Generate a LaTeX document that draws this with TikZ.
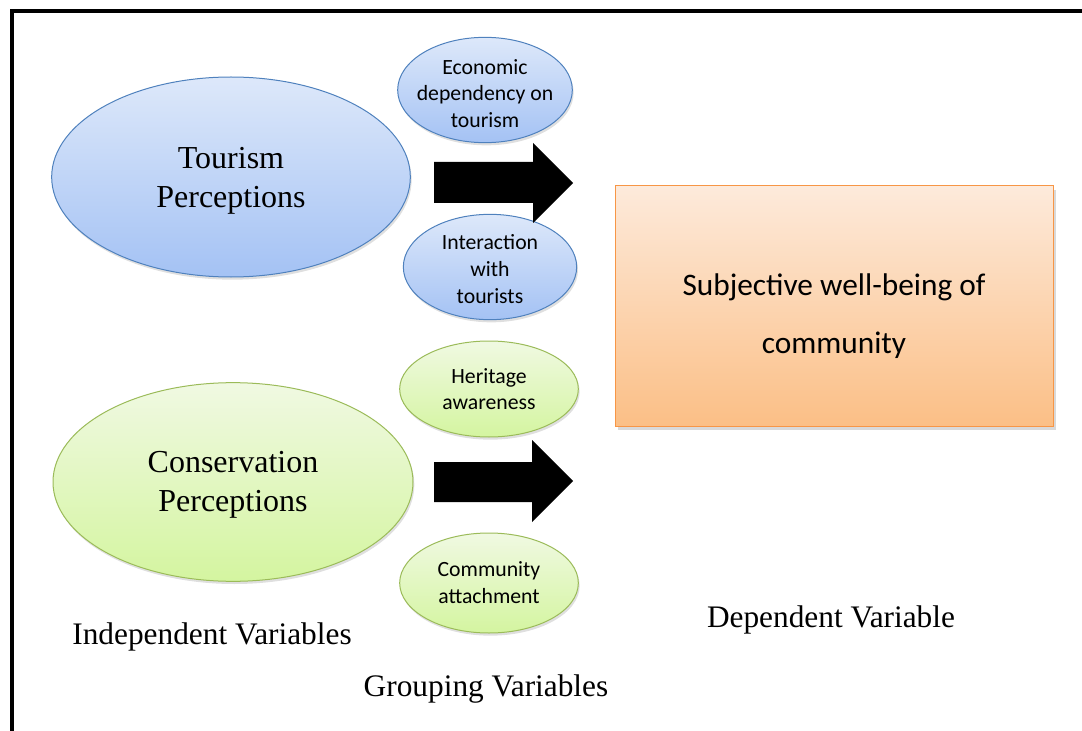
\documentclass[tikz,border=0pt]{standalone}
\usepackage{fontspec}
\setmainfont{Liberation Serif}
\newfontfamily\calibri{Carlito}
\usetikzlibrary{shapes.geometric,shadows}

\definecolor{blueline}{HTML}{4F81BD}
\definecolor{bluetop}{HTML}{DDE8FA}
\definecolor{bluebot}{HTML}{A4C2F4}
\definecolor{greenline}{HTML}{9BBB59}
\definecolor{greentop}{HTML}{F0F9E2}
\definecolor{greenbot}{HTML}{D4F5A0}
\definecolor{orangeline}{HTML}{F79646}
\definecolor{orangetop}{HTML}{FDEADB}
\definecolor{orangebot}{HTML}{FBBF86}

\tikzset{every picture/.style={line width=0.75pt}}
\tikzset{
  oval/.style={ellipse, inner sep=0pt,
    drop shadow={opacity=0.25, shadow xshift=1pt, shadow yshift=-2pt}},
  bigtext/.style={align=center, font=\fontsize{24}{29}\selectfont},
  smalltext/.style={align=center, font=\calibri\fontsize{16.3}{20}\selectfont},
  tourismfill/.style={draw=blueline, shading=axis, top color=bluetop, bottom color=bluebot},
  conservfill/.style={draw=greenline, shading=axis, top color=greentop, bottom color=greenbot},
  caption/.style={font=\fontsize{23.5}{28}\selectfont}
}

\begin{document}
\begin{tikzpicture}[x=0.75pt,y=0.75pt,yscale=-1,xscale=1]
	\useasboundingbox (0,0) rectangle (1082,731);

	%Frame
	\draw [line width=3pt] (12,731) -- (12,11) -- (1082,11) ;

	%Ellipse: independent variables
	\node [oval, tourismfill, minimum width=269pt, minimum height=150pt] (tourism) at (231,177) {};
	\node [oval, conservfill, minimum width=270pt, minimum height=149pt] (conserv) at (233,482) {};

	%Ellipse: grouping variables
	\node [oval, tourismfill, minimum width=131pt, minimum height=79pt] (economic) at (485,90) {};
	\node [oval, tourismfill, minimum width=130pt, minimum height=79pt] (interact) at (490,267) {};
	\node [oval, conservfill, minimum width=134pt, minimum height=72pt] (heritage) at (489,389) {};
	\node [oval, conservfill, minimum width=134pt, minimum height=75pt] (attach) at (489,583) {};

	% Text in the ellipses (y runs downwards here)
	\node [bigtext] (tourism txt) at ([yshift=3pt]tourism.center) {Tourism\\Perceptions};
	\node [bigtext] (conserv txt) at ([yshift=2pt]conserv.center) {Conservation\\Perceptions};
	\node [smalltext] (economic txt) at ([yshift=2.5pt]economic.center) {Economic\\dependency on\\tourism};
	\node [smalltext] (interact txt) at ([yshift=1.5pt]interact.center) {Interaction\\with\\tourists};
	\node [smalltext] (heritage txt) at (heritage.center) {Heritage\\awareness};
	\node [smalltext] (attach txt) at ([yshift=-0.5pt]attach.center) {Community\\attachment};

	%Block Arrows
	\fill [black] (434,162) -- (533,162) -- (533,143) -- (573,183) -- (533,223) -- (533,203) -- (434,203) -- cycle ;
	\fill [black] (434,462) -- (532,462) -- (532,440) -- (573,481) -- (532,522) -- (532,502) -- (434,502) -- cycle ;

	%Shape: Rectangle
	\node [draw=orangeline, shading=axis, top color=orangetop, bottom color=orangebot,
	  minimum width=328.5pt, minimum height=180pt, inner sep=0pt,
	  drop shadow={opacity=0.3, shadow xshift=2pt, shadow yshift=-3pt}] (wellbeing) at (834,306) {};
	\node [align=center, font=\calibri\fontsize{23.5}{44}\selectfont] (wellbeing txt) at ([yshift=7.5pt]wellbeing.center) {Subjective well-being of\\community};

	% Text Node
	\node [caption] (indep) at (212,637) {Independent Variables};
	% Text Node
	\node [caption] (dep) at (831,620) {Dependent Variable};
	% Text Node
	\node [caption] (group) at (486,689) {Grouping Variables};

\end{tikzpicture}
\end{document}
